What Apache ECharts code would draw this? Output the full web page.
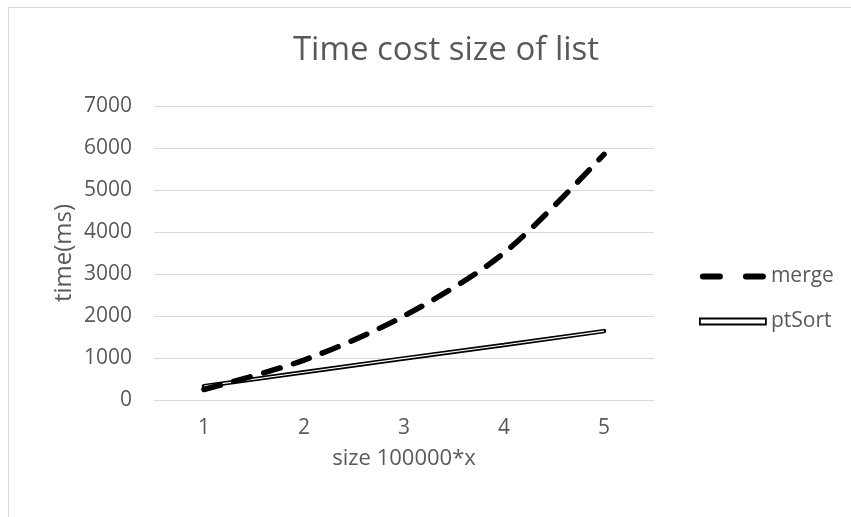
<!DOCTYPE html>
<html>
<head>
<meta charset="utf-8">
<script src="https://cdn.jsdelivr.net/npm/echarts@6/dist/echarts.min.js"></script>
<style>
html,body{margin:0;padding:0;background:#fff;}
#chart{width:851px;height:517px;}
</style>
</head>
<body>
<div id="chart"></div>
<script>
var categories = ['1', '2', '3', '4', '5'];
var mergeValues = [250, 950, 2000, 3500, 5850];
var ptSortValues = [330, 660, 990, 1310, 1640];
var yTicks = [0, 1000, 2000, 3000, 4000, 5000, 6000, 7000];

var chart = echarts.init(document.getElementById('chart'), null, {renderer: 'canvas'});
var font = '"Open Sans", sans-serif';
var grey = '#595959';
var dashIcon = 'path://M3,0 H20 A3,3 0 0 1 20,6 H3 A3,3 0 0 1 3,0 Z M46,0 H63 A3,3 0 0 1 63,6 H46 A3,3 0 0 1 46,0 Z';
var lineIcon = 'path://M0,0 H66 V6 H0 Z';
chart.setOption({
  backgroundColor: '#fff',
  animation: false,
  graphic: [{
    type: 'rect', shape: {x: 8.5, y: 7.5, width: 900, height: 600},
    style: {fill: 'none', stroke: '#d9d9d9', lineWidth: 1}, silent: true, z: -1
  }],
  title: {
    text: 'Time cost size of list',
    left: 441, top: 29, textAlign: 'center',
    textStyle: {fontFamily: font, fontSize: 33, fontWeight: 'normal', color: grey}
  },
  legend: {
    orient: 'vertical', left: 694, top: 261, itemGap: 24,
    itemWidth: 66, itemHeight: 6,
    textStyle: {fontFamily: font, fontSize: 21, color: grey},
    data: [
      {name: 'merge', icon: dashIcon, itemStyle: {color: '#000', borderWidth: 0}},
      {name: 'ptSort', icon: lineIcon, itemStyle: {color: '#fff', borderColor: '#000', borderWidth: 1.8}}
    ]
  },
  grid: {left: 154, right: 197, top: 106, bottom: 117, containLabel: false},
  xAxis: {
    type: 'category', data: categories, boundaryGap: true,
    name: 'size 100000*x', nameLocation: 'middle', nameGap: 48, nameMoveOverlap: false,
    nameTextStyle: {fontFamily: font, fontSize: 22, color: grey},
    axisLine: {show: true, lineStyle: {color: '#d9d9d9', width: 1}},
    axisTick: {show: false},
    axisLabel: {fontFamily: font, fontSize: 21, color: grey, margin: 18}
  },
  yAxis: {
    type: 'value', min: yTicks[0], max: yTicks[yTicks.length - 1], interval: 1000,
    name: 'time(ms)', nameLocation: 'middle', nameGap: 78, nameRotate: 90, nameMoveOverlap: false,
    nameTextStyle: {fontFamily: font, fontSize: 24, color: grey},
    axisLine: {show: false}, axisTick: {show: false},
    axisLabel: {fontFamily: font, fontSize: 21, color: grey, margin: 22, formatter: function (v) { return String(v); }},
    splitLine: {lineStyle: {color: '#d9d9d9', width: 1}}
  },
  series: [
    {
      name: 'merge', type: 'line', data: mergeValues, smooth: 0.3,
      symbol: 'none', z: 3,
      lineStyle: {color: '#000', width: 5.5, type: [17, 14], cap: 'round'},
      itemStyle: {color: '#000'}
    },
    {
      name: 'ptSort', type: 'line', data: ptSortValues,
      symbol: 'none', z: 2,
      lineStyle: {color: '#000', width: 4.5, cap: 'round'},
      itemStyle: {color: '#000'}
    },
    {
      name: 'ptSortInner', type: 'line', data: ptSortValues,
      symbol: 'none', z: 2, silent: true,
      lineStyle: {color: '#fff', width: 1.2},
      itemStyle: {color: '#fff'}
    }
  ]
});
</script>
</body>
</html>
